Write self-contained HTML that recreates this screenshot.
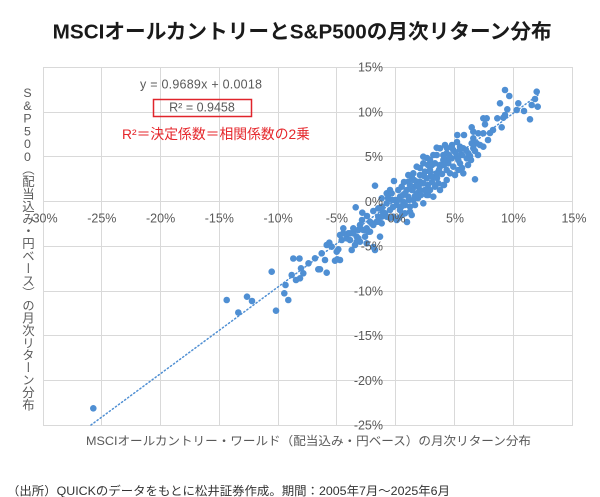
<!DOCTYPE html>
<html><head><meta charset="utf-8"><style>
html,body{margin:0;padding:0;background:#fff;}
#wrap{position:relative;width:600px;height:497px;overflow:hidden;background:#fff;}
svg{position:absolute;left:0;top:0;}
#ylab{position:absolute;left:20.5px;top:86px;writing-mode:vertical-rl;text-orientation:upright;font-family:"Liberation Sans","Noto Sans CJK JP",sans-serif;font-size:12.4px;line-height:14px;color:#595959;white-space:nowrap;}
#ylab .lat{letter-spacing:-1.2px;}
</style></head><body><div id="wrap">
<svg width="600" height="497" viewBox="0 0 600 497" xmlns="http://www.w3.org/2000/svg">
<text x="52.7" y="38.3" font-family="Liberation Sans, Noto Sans CJK JP, sans-serif" font-size="20.5" font-weight="bold" fill="#1a1a1a" textLength="499" lengthAdjust="spacingAndGlyphs">MSCIオールカントリーとS&amp;P500の月次リターン分布</text>
<g stroke="#d9d9d9" stroke-width="1">
<line x1="43.5" y1="67" x2="43.5" y2="426"/><line x1="101.5" y1="67" x2="101.5" y2="426"/><line x1="160.5" y1="67" x2="160.5" y2="426"/><line x1="219.5" y1="67" x2="219.5" y2="426"/><line x1="278.5" y1="67" x2="278.5" y2="426"/><line x1="336.5" y1="67" x2="336.5" y2="426"/><line x1="395.5" y1="67" x2="395.5" y2="426"/><line x1="454.5" y1="67" x2="454.5" y2="426"/><line x1="513.5" y1="67" x2="513.5" y2="426"/><line x1="572.5" y1="67" x2="572.5" y2="426"/>
<line x1="43" y1="67.5" x2="573" y2="67.5"/><line x1="43" y1="112.5" x2="573" y2="112.5"/><line x1="43" y1="156.5" x2="573" y2="156.5"/><line x1="43" y1="201.5" x2="573" y2="201.5"/><line x1="43" y1="246.5" x2="573" y2="246.5"/><line x1="43" y1="291.5" x2="573" y2="291.5"/><line x1="43" y1="335.5" x2="573" y2="335.5"/><line x1="43" y1="380.5" x2="573" y2="380.5"/><line x1="43" y1="425.5" x2="573" y2="425.5"/>
</g>
<g fill="#4f8fd3">
<circle cx="93.3" cy="408.3" r="3.3"/><circle cx="226.7" cy="300" r="3.3"/><circle cx="238.3" cy="312.5" r="3.3"/><circle cx="247" cy="296.7" r="3.3"/><circle cx="252" cy="301" r="3.3"/><circle cx="271.7" cy="271.7" r="3.3"/><circle cx="276" cy="310.7" r="3.3"/><circle cx="284.3" cy="293.3" r="3.3"/><circle cx="285.5" cy="285" r="3.3"/><circle cx="288.3" cy="300" r="3.3"/><circle cx="291.7" cy="275" r="3.3"/><circle cx="293.3" cy="258.5" r="3.3"/><circle cx="299.5" cy="258.5" r="3.3"/><circle cx="296" cy="280" r="3.3"/><circle cx="301" cy="268.3" r="3.3"/><circle cx="303.3" cy="273.3" r="3.3"/><circle cx="308.5" cy="263.3" r="3.3"/><circle cx="315" cy="258.3" r="3.3"/><circle cx="318.3" cy="269.3" r="3.3"/><circle cx="300" cy="278.3" r="3.3"/><circle cx="320" cy="269.3" r="3.3"/><circle cx="326.7" cy="272.7" r="3.3"/><circle cx="321.7" cy="253.3" r="3.3"/><circle cx="325" cy="260" r="3.3"/><circle cx="335" cy="260.7" r="3.3"/><circle cx="340" cy="260" r="3.3"/><circle cx="337.3" cy="259.3" r="3.3"/><circle cx="326.7" cy="245" r="3.3"/><circle cx="329.3" cy="242.7" r="3.3"/><circle cx="331.7" cy="246.7" r="3.3"/><circle cx="338.3" cy="249.3" r="3.3"/><circle cx="336.7" cy="251.7" r="3.3"/><circle cx="341.7" cy="240" r="3.3"/><circle cx="340" cy="235" r="3.3"/><circle cx="343.3" cy="228.3" r="3.3"/><circle cx="346.7" cy="238.3" r="3.3"/><circle cx="350" cy="233.3" r="3.3"/><circle cx="350" cy="240" r="3.3"/><circle cx="353.3" cy="233.3" r="3.3"/><circle cx="353.3" cy="228.3" r="3.3"/><circle cx="355" cy="245" r="3.3"/><circle cx="351.7" cy="250" r="3.3"/><circle cx="358.3" cy="238.3" r="3.3"/><circle cx="358.3" cy="230" r="3.3"/><circle cx="360" cy="241.7" r="3.3"/><circle cx="363.3" cy="230" r="3.3"/><circle cx="365" cy="236.7" r="3.3"/><circle cx="366.7" cy="228.3" r="3.3"/><circle cx="366.7" cy="243.3" r="3.3"/><circle cx="368.3" cy="231.7" r="3.3"/><circle cx="370" cy="221.7" r="3.3"/><circle cx="373.3" cy="225" r="3.3"/><circle cx="375" cy="250" r="3.3"/><circle cx="373.3" cy="247" r="3.3"/><circle cx="378.3" cy="221.7" r="3.3"/><circle cx="380" cy="236.7" r="3.3"/><circle cx="381.7" cy="223.3" r="3.3"/><circle cx="386.7" cy="216.7" r="3.3"/><circle cx="376.7" cy="221.7" r="3.3"/><circle cx="371.7" cy="223.3" r="3.3"/><circle cx="356.7" cy="236.7" r="3.3"/><circle cx="356.7" cy="241.7" r="3.3"/><circle cx="348.3" cy="233.3" r="3.3"/><circle cx="343.3" cy="233.3" r="3.3"/><circle cx="355.7" cy="207.3" r="3.3"/><circle cx="362.3" cy="212.7" r="3.3"/><circle cx="373.3" cy="211" r="3.3"/><circle cx="378.3" cy="216.7" r="3.3"/><circle cx="381.7" cy="216.7" r="3.3"/><circle cx="375" cy="185.7" r="3.3"/><circle cx="381.7" cy="198.3" r="3.3"/><circle cx="386.7" cy="193.3" r="3.3"/><circle cx="390" cy="190" r="3.3"/><circle cx="394" cy="181" r="3.3"/><circle cx="370" cy="231.7" r="3.3"/><circle cx="365" cy="230" r="3.3"/><circle cx="362" cy="220" r="3.3"/><circle cx="367" cy="216" r="3.3"/><circle cx="360" cy="225" r="3.3"/>
<circle cx="396.7" cy="205" r="3.3"/><circle cx="403.3" cy="201.7" r="3.3"/><circle cx="408.3" cy="196.7" r="3.3"/><circle cx="400" cy="210" r="3.3"/><circle cx="410" cy="206.7" r="3.3"/><circle cx="413.3" cy="200" r="3.3"/><circle cx="416.7" cy="193.3" r="3.3"/><circle cx="420" cy="190" r="3.3"/><circle cx="415" cy="186.7" r="3.3"/><circle cx="423.3" cy="183.3" r="3.3"/><circle cx="426.7" cy="178.3" r="3.3"/><circle cx="420" cy="175" r="3.3"/><circle cx="416.7" cy="166.7" r="3.3"/><circle cx="423.3" cy="163.3" r="3.3"/><circle cx="430" cy="170" r="3.3"/><circle cx="433.3" cy="176.7" r="3.3"/><circle cx="436.7" cy="173.3" r="3.3"/><circle cx="440" cy="166.7" r="3.3"/><circle cx="443.3" cy="160" r="3.3"/><circle cx="436.7" cy="155" r="3.3"/><circle cx="446.7" cy="153.3" r="3.3"/><circle cx="453.3" cy="150" r="3.3"/><circle cx="460" cy="146.7" r="3.3"/><circle cx="463.3" cy="148.3" r="3.3"/><circle cx="473.3" cy="148.3" r="3.3"/><circle cx="476.7" cy="143.3" r="3.3"/><circle cx="480" cy="145" r="3.3"/><circle cx="483.3" cy="146.7" r="3.3"/><circle cx="466.7" cy="158.3" r="3.3"/><circle cx="460" cy="163.3" r="3.3"/><circle cx="453.3" cy="166.7" r="3.3"/><circle cx="450" cy="173.3" r="3.3"/><circle cx="446.7" cy="180" r="3.3"/><circle cx="443.3" cy="185" r="3.3"/><circle cx="440" cy="190" r="3.3"/><circle cx="435" cy="186.7" r="3.3"/><circle cx="430" cy="190" r="3.3"/><circle cx="426.7" cy="195" r="3.3"/><circle cx="433.3" cy="196.7" r="3.3"/><circle cx="423.3" cy="203.3" r="3.3"/><circle cx="410" cy="211.7" r="3.3"/><circle cx="405" cy="213.3" r="3.3"/><circle cx="411.7" cy="215" r="3.3"/><circle cx="398.3" cy="218.3" r="3.3"/><circle cx="393.3" cy="216.7" r="3.3"/><circle cx="390" cy="210" r="3.3"/><circle cx="385" cy="213.3" r="3.3"/><circle cx="386.7" cy="203.3" r="3.3"/><circle cx="381.7" cy="206.7" r="3.3"/><circle cx="378.3" cy="208.3" r="3.3"/><circle cx="396.7" cy="220" r="3.3"/><circle cx="405" cy="193.3" r="3.3"/><circle cx="401.7" cy="186.7" r="3.3"/><circle cx="408.3" cy="181.7" r="3.3"/><circle cx="411.7" cy="176.7" r="3.3"/><circle cx="406.7" cy="190" r="3.3"/><circle cx="400" cy="196.7" r="3.3"/><circle cx="395" cy="200" r="3.3"/><circle cx="391.7" cy="193.3" r="3.3"/><circle cx="398.3" cy="190" r="3.3"/><circle cx="425" cy="171.7" r="3.3"/><circle cx="430" cy="160" r="3.3"/><circle cx="435" cy="163.3" r="3.3"/><circle cx="438.3" cy="183.3" r="3.3"/><circle cx="448.3" cy="163.3" r="3.3"/><circle cx="456.7" cy="156.7" r="3.3"/><circle cx="451.7" cy="158.3" r="3.3"/><circle cx="458.3" cy="170" r="3.3"/><circle cx="463.3" cy="173.3" r="3.3"/><circle cx="468.3" cy="153.3" r="3.3"/><circle cx="440" cy="148.3" r="3.3"/><circle cx="445" cy="145" r="3.3"/><circle cx="420" cy="181.7" r="3.3"/><circle cx="416.7" cy="181.7" r="3.3"/><circle cx="413.3" cy="173.3" r="3.3"/><circle cx="408.3" cy="175" r="3.3"/><circle cx="428.3" cy="195" r="3.3"/><circle cx="444" cy="185" r="3.3"/><circle cx="475" cy="179.3" r="3.3"/>
<circle cx="412" cy="190" r="3.3"/><circle cx="418" cy="198" r="3.3"/><circle cx="405" cy="205" r="3.3"/><circle cx="428" cy="185" r="3.3"/><circle cx="432" cy="182" r="3.3"/><circle cx="437" cy="178" r="3.3"/><circle cx="442" cy="174" r="3.3"/><circle cx="446" cy="160" r="3.3"/><circle cx="452" cy="145" r="3.3"/><circle cx="457" cy="142" r="3.3"/><circle cx="425" cy="190" r="3.3"/><circle cx="415" cy="205" r="3.3"/><circle cx="402" cy="215" r="3.3"/><circle cx="390" cy="218" r="3.3"/><circle cx="420" cy="168" r="3.3"/><circle cx="428" cy="165" r="3.3"/><circle cx="447" cy="148" r="3.3"/><circle cx="455" cy="175" r="3.3"/><circle cx="462" cy="168" r="3.3"/><circle cx="468" cy="165" r="3.3"/><circle cx="470" cy="156" r="3.3"/><circle cx="478" cy="155" r="3.3"/><circle cx="488" cy="140" r="3.3"/><circle cx="490" cy="133" r="3.3"/><circle cx="493" cy="130" r="3.3"/><circle cx="410" cy="185" r="3.3"/><circle cx="403" cy="195" r="3.3"/><circle cx="393" cy="207" r="3.3"/><circle cx="407" cy="222" r="3.3"/>
<circle cx="414" cy="180" r="3.3"/><circle cx="419" cy="185" r="3.3"/><circle cx="424" cy="176" r="3.3"/><circle cx="431" cy="176" r="3.3"/><circle cx="439" cy="170" r="3.3"/><circle cx="444" cy="165" r="3.3"/><circle cx="449" cy="155" r="3.3"/><circle cx="455" cy="152" r="3.3"/><circle cx="462" cy="155" r="3.3"/><circle cx="466" cy="150" r="3.3"/><circle cx="471" cy="160" r="3.3"/><circle cx="404" cy="182" r="3.3"/><circle cx="398" cy="200" r="3.3"/><circle cx="392" cy="200" r="3.3"/><circle cx="388" cy="198" r="3.3"/><circle cx="383" cy="212" r="3.3"/><circle cx="402" cy="206" r="3.3"/><circle cx="409" cy="200" r="3.3"/><circle cx="421" cy="195" r="3.3"/><circle cx="415" cy="196" r="3.3"/><circle cx="432" cy="165" r="3.3"/><circle cx="427" cy="158" r="3.3"/>
<circle cx="505" cy="90" r="3.3"/><circle cx="509.3" cy="96" r="3.3"/><circle cx="536.7" cy="91.7" r="3.3"/><circle cx="535" cy="99" r="3.3"/><circle cx="537.7" cy="106.7" r="3.3"/><circle cx="531.7" cy="105" r="3.3"/><circle cx="518.3" cy="103.3" r="3.3"/><circle cx="500" cy="103.3" r="3.3"/><circle cx="507.3" cy="109.3" r="3.3"/><circle cx="516.7" cy="110" r="3.3"/><circle cx="524" cy="111" r="3.3"/><circle cx="530" cy="119.3" r="3.3"/><circle cx="505" cy="115" r="3.3"/><circle cx="503.3" cy="117.7" r="3.3"/><circle cx="497.3" cy="118.3" r="3.3"/><circle cx="483.3" cy="118.3" r="3.3"/><circle cx="486.7" cy="118.3" r="3.3"/><circle cx="485" cy="124.3" r="3.3"/><circle cx="501.7" cy="127.3" r="3.3"/><circle cx="471.7" cy="127.3" r="3.3"/><circle cx="473.3" cy="131.7" r="3.3"/><circle cx="478.3" cy="133.3" r="3.3"/><circle cx="483.3" cy="133.3" r="3.3"/><circle cx="457.3" cy="135" r="3.3"/><circle cx="464" cy="135" r="3.3"/><circle cx="473.3" cy="138.3" r="3.3"/><circle cx="471.7" cy="143.3" r="3.3"/><circle cx="475" cy="151" r="3.3"/><circle cx="460" cy="150" r="3.3"/><circle cx="451.7" cy="147.7" r="3.3"/><circle cx="436.7" cy="147.7" r="3.3"/><circle cx="443.3" cy="155" r="3.3"/><circle cx="433.3" cy="155" r="3.3"/><circle cx="450" cy="158.3" r="3.3"/><circle cx="458.3" cy="160" r="3.3"/><circle cx="423.3" cy="156.7" r="3.3"/><circle cx="440" cy="165" r="3.3"/><circle cx="446.7" cy="170" r="3.3"/><circle cx="430" cy="171.7" r="3.3"/>
</g>
<line x1="91" y1="425" x2="538" y2="95" stroke="#4f8fd3" stroke-width="1.5" stroke-dasharray="1.2 2.6" stroke-linecap="round"/>
<g font-family="Liberation Sans, sans-serif" font-size="12.5" fill="#595959">
<g text-anchor="middle">
<text x="43" y="222.5">-30%</text><text x="101.8" y="222.5">-25%</text><text x="160.6" y="222.5">-20%</text><text x="219.3" y="222.5">-15%</text><text x="278.1" y="222.5">-10%</text><text x="336.9" y="222.5">-5%</text><text x="396.5" y="222.5">0%</text><text x="455" y="222.5">5%</text><text x="513.5" y="222.5">10%</text><text x="574" y="222.5">15%</text>
</g>
<g text-anchor="end">
<text x="383" y="71.6">15%</text><text x="383" y="116.4">10%</text><text x="383" y="161.1">5%</text><text x="383" y="205.9">0%</text><text x="383" y="250.7">-5%</text><text x="383" y="295.4">-10%</text><text x="383" y="340.2">-15%</text><text x="383" y="385">-20%</text><text x="383" y="429.7">-25%</text>
</g>
<text x="201" y="88.3" text-anchor="middle" textLength="122" lengthAdjust="spacing">y = 0.9689x + 0.0018</text>
<text x="202" y="111.3" text-anchor="middle">R² = 0.9458</text>
</g>
<rect x="153.5" y="99.5" width="98" height="17" fill="none" stroke="#e0242b" stroke-width="1.5"/>
<text x="122" y="139" font-family="Liberation Sans, Noto Sans CJK JP, sans-serif" font-size="14" fill="#e5262b" textLength="188" lengthAdjust="spacingAndGlyphs">R²＝決定係数＝相関係数の2乗</text>
<text x="86" y="444.8" font-family="Liberation Sans, Noto Sans CJK JP, sans-serif" font-size="12.2" fill="#595959" textLength="445" lengthAdjust="spacingAndGlyphs">MSCIオールカントリー・ワールド（配当込み・円ベース）の月次リターン分布</text>
<text x="7" y="495" font-family="Liberation Sans, Noto Sans CJK JP, sans-serif" font-size="12" fill="#333333" textLength="443" lengthAdjust="spacingAndGlyphs">（出所）QUICKのデータをもとに松井証券作成。期間：2005年7月～2025年6月</text>
</svg>
<div id="ylab"><span class="lat">S&amp;P500</span>（配当込み・円ベース）の月次リターン分布</div>
</div></body></html>
